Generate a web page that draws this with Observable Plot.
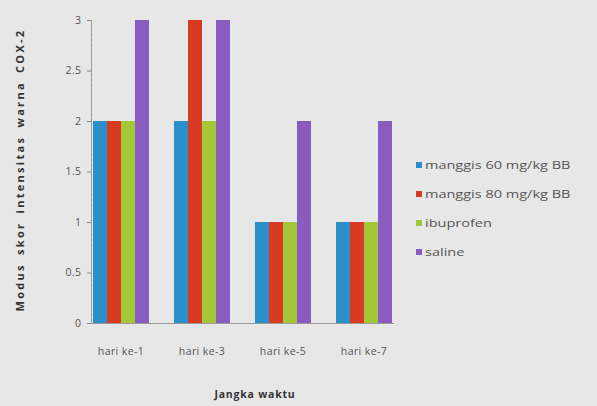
<!DOCTYPE html>
<html><head><meta charset="utf-8">
<script src="https://cdn.jsdelivr.net/npm/d3@7"></script>
<script src="https://cdn.jsdelivr.net/npm/@observablehq/plot@0.6"></script>
<style>
html,body{margin:0;padding:0;background:#e7e7e7;}
#wrap{position:relative;width:597px;height:406px;background:#e7e7e7;font-family:"Open Sans",sans-serif;overflow:hidden;}
#wrap svg text{letter-spacing:0.4px;}
#legend{position:absolute;left:416px;top:150px;font-size:10px;color:#555;}
#legend div{height:29px;display:flex;align-items:center;white-space:nowrap;}
#legend span.sw{display:inline-block;width:6px;height:6px;margin-right:3px;}
#legend span.tx{display:inline-block;transform:scaleX(1.45);transform-origin:left center;}
</style></head><body>
<div id="wrap"></div>
<script>
const days = ["hari ke-1", "hari ke-3", "hari ke-5", "hari ke-7"];
const series = ["manggis 60 mg/kg BB", "manggis 80 mg/kg BB", "ibuprofen", "saline"];
const colors = ["#2b8fcc", "#d93a22", "#a2c83a", "#8a5cbf"];
const manggis60 = [2, 2, 1, 1];
const manggis80 = [2, 3, 1, 1];
const ibuprofen = [2, 2, 1, 1];
const saline = [3, 3, 2, 2];
const yTicks = [0, 0.5, 1, 1.5, 2, 2.5, 3];

const values = [manggis60, manggis80, ibuprofen, saline];
const data = [];
days.forEach((d, i) => series.forEach((s, j) => data.push({day: d, series: s, value: values[j][i]})));

const chart = Plot.plot({
  width: 597, height: 406,
  marginLeft: 78, marginTop: 20, marginBottom: 83, marginRight: 190,
  style: {background: "transparent", fontFamily: "Open Sans, sans-serif", fontSize: "10.5px", color: "#555"},
  fx: {domain: days, paddingInner: 0.27, paddingOuter: 0.15, label: null},
  x: {domain: series, padding: 0, axis: null},
  y: {domain: [0, 3], ticks: yTicks, label: null},
  color: {domain: series, range: colors},
  marks: [
    Plot.barY(data, {fx: "day", x: "series", y: "value", fill: "series"}),
    Plot.axisY({ticks: yTicks, tickSize: 4, tickPadding: 6, tickFormat: d => String(d), label: null, stroke: "#888"}),
    Plot.axisFx({anchor: "bottom", tickSize: 0, tickPadding: 24, label: null}),
    Plot.frame({anchor: "left", facet: "super", stroke: "#999", strokeDasharray: "1.5,1"}),
    Plot.frame({anchor: "bottom", facet: "super", stroke: "#999"})
  ]
});
const wrap = document.getElementById("wrap");
wrap.appendChild(chart);
chart.style.position = "absolute"; chart.style.left = "0"; chart.style.top = "0";

// y axis title
const yt = document.createElement("div");
yt.textContent = "Modus skor intensitas warna COX-2";
Object.assign(yt.style, {position: "absolute", left: "19px", top: "170px", transform: "translate(-50%,-50%) rotate(-90deg)", whiteSpace: "nowrap", fontWeight: "bold", fontSize: "11px", letterSpacing: "2.3px", wordSpacing: "3px", color: "#333"});
wrap.appendChild(yt);
// x axis title
const xt = document.createElement("div");
xt.textContent = "Jangka waktu";
Object.assign(xt.style, {position: "absolute", left: "255px", top: "394px", transform: "translate(-50%,-50%)", whiteSpace: "nowrap", fontWeight: "bold", fontSize: "10.5px", letterSpacing: "0.8px", color: "#333"});
wrap.appendChild(xt);
// legend
const lg = document.createElement("div");
lg.id = "legend";
series.forEach((s, i) => {
  const row = document.createElement("div");
  const sw = document.createElement("span"); sw.className = "sw"; sw.style.background = colors[i];
  const tx = document.createElement("span"); tx.className = "tx"; tx.textContent = s;
  row.appendChild(sw); row.appendChild(tx);
  lg.appendChild(row);
});
wrap.appendChild(lg);
</script>
</body></html>
